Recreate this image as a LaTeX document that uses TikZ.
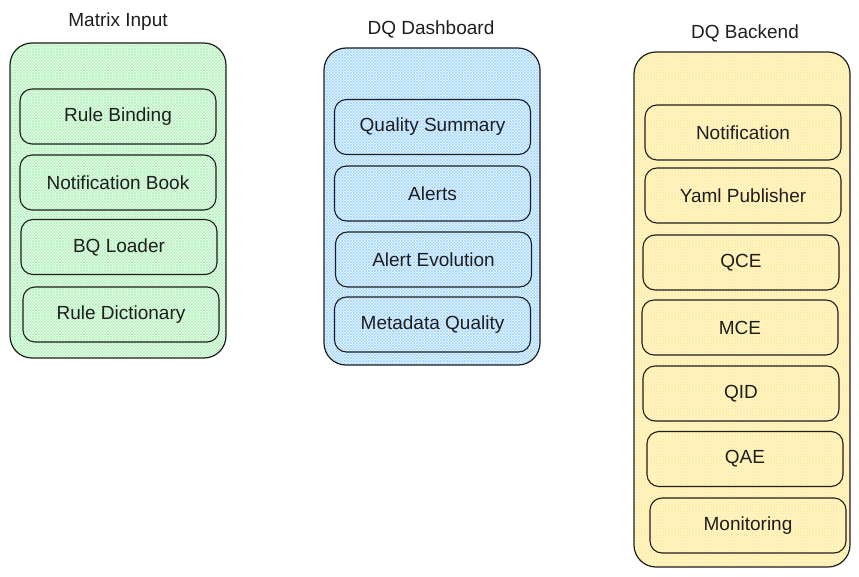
\documentclass[tikz,border=0pt]{standalone}
\usepackage{fontspec}
\setmainfont{Liberation Sans}
\usepackage{tikz}
\usetikzlibrary{patterns}
\definecolor{hgreen}{HTML}{B2F2BB}
\definecolor{hblue}{HTML}{A5D8FF}
\definecolor{hyellow}{HTML}{FFEC99}
\definecolor{ink}{HTML}{1E1E1E}
\tikzstyle{group} = [rectangle, rounded corners=22pt, minimum width=216pt, draw=ink, line width=1.2pt]
\tikzstyle{greenfill} = [preaction={fill=hgreen!22}, preaction={pattern=north east lines, pattern color=hgreen}, preaction={pattern=north west lines, pattern color=hgreen}]
\tikzstyle{bluefill} = [preaction={fill=hblue!22}, preaction={pattern=north east lines, pattern color=hblue}, preaction={pattern=north west lines, pattern color=hblue}]
\tikzstyle{yellowfill} = [preaction={fill=hyellow!28}, preaction={pattern=north east lines, pattern color=hyellow}, preaction={pattern=north west lines, pattern color=hyellow}]
\tikzstyle{item} = [rectangle, rounded corners=12pt, minimum width=196pt, minimum height=55pt, text centered, draw=ink, line width=1.1pt, text=ink, font=\fontsize{19}{23}\selectfont]
\tikzstyle{heading} = [text=ink, font=\fontsize{19}{23}\selectfont]

\begin{document}
\begin{tikzpicture}[x=1pt, y=-1pt]
\useasboundingbox (0,0) rectangle (859,577);
% containers
\node (matrix) [group, greenfill, minimum height=315pt] at (118,200.5) {};
\node (dashboard) [group, bluefill, minimum height=317pt] at (432,206.5) {};
\node (backend) [group, yellowfill, minimum height=515pt] at (742,309.5) {};
\node (matrixtitle) [heading] at (118,22) {Matrix Input};
\node (dashboardtitle) [heading] at (431,29) {DQ Dashboard};
\node (backendtitle) [heading] at (745,33) {DQ Backend};
% matrix input
\node (binding) [item] at (118,116.5) {Rule Binding};
\node (book) [item] at (118,182.5) {Notification Book};
\node (loader) [item] at (119,247) {BQ Loader};
\node (dictionary) [item] at (121,314.5) {Rule Dictionary};
% dashboard
\node (summary) [item] at (432.5,127) {Quality Summary};
\node (alerts) [item] at (432.5,193.5) {Alerts};
\node (evolution) [item] at (433.5,259.5) {Alert Evolution};
\node (metadata) [item] at (432.5,324.5) {Metadata Quality};
% backend
\node (notification) [item] at (743,132.5) {Notification};
\node (yaml) [item] at (743,195.5) {Yaml Publisher};
\node (qce) [item] at (741,262.5) {QCE};
\node (mce) [item] at (740,327.5) {MCE};
\node (qid) [item] at (741,393.5) {QID};
\node (qae) [item] at (745,459) {QAE};
\node (monitoring) [item] at (748,525.5) {Monitoring};
\end{tikzpicture}
\end{document}
